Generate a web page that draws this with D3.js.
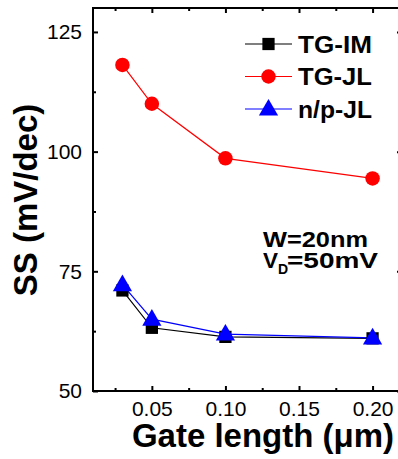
<!DOCTYPE html>
<html><head><meta charset="utf-8">
<script src="https://cdn.jsdelivr.net/npm/d3@7"></script>
<style>body{margin:0;background:#fff;} svg{display:block;}</style>
</head><body>
<svg id="c" width="398" height="459"></svg>
<script>
const gateLength = [0.03, 0.05, 0.10, 0.20];
const tgIM = [71.0, 63.2, 61.3, 61.0];
const tgJL = [118.1, 110.0, 98.6, 94.4];
const npJL = [72.2, 65.0, 61.9, 61.1];
const seriesNames = ["TG-IM", "TG-JL", "n/p-JL"];
const seriesColors = ["#000000", "#ff0000", "#0000ff"];
const xMajorTicks = [0.05, 0.10, 0.15, 0.20];
const xMinorTicks = [0.025, 0.075, 0.125, 0.175];
const yMajorTicks = [50, 75, 100, 125];
const yMinorTicks = [62.5, 87.5, 112.5];

const svg = d3.select("#c");
const L = 93, R = 402, T = 8, B = 391;
const x = d3.scaleLinear().domain([0.01, 0.22]).range([L, R]);
const y = d3.scaleLinear().domain([50, 130]).range([B, T]);
const font = "Arial, 'Liberation Sans', sans-serif";

function axis(gen, tx, ty, ticks, size, labels) {
  const g = svg.append("g").attr("transform", `translate(${tx},${ty})`)
    .call(gen.tickValues(ticks).tickSize(size).tickSizeOuter(0));
  g.select(".domain").remove();
  g.selectAll("line").attr("stroke", "#000").attr("stroke-width", 2);
  if (!labels) g.selectAll("text").remove();
  else g.selectAll("text").attr("font-family", font).attr("font-size", 21).attr("fill", "#000");
  return g;
}
axis(d3.axisBottom(x).tickFormat(d3.format(".2f")).tickPadding(10.5), 0, B, xMajorTicks, -5, true);
axis(d3.axisBottom(x), 0, B, xMinorTicks, -3, false);
axis(d3.axisTop(x), 0, T, xMajorTicks, -5, false);
axis(d3.axisTop(x), 0, T, xMinorTicks, -3, false);
axis(d3.axisLeft(y).tickFormat(d3.format("d")).tickPadding(11), L, 0, yMajorTicks, -5, true);
axis(d3.axisLeft(y), L, 0, yMinorTicks, -3, false);
axis(d3.axisRight(y), R, 0, yMajorTicks, -5, false);
axis(d3.axisRight(y), R, 0, yMinorTicks, -3, false);

svg.append("rect").attr("x", L).attr("y", T).attr("width", R - L).attr("height", B - T)
  .attr("fill", "none").attr("stroke", "#000").attr("stroke-width", 2);

const data = [tgIM, tgJL, npJL];
const line = d3.line().x((d, i) => x(gateLength[i])).y(d => y(d));
const sym = [d3.symbolSquare, d3.symbolCircle, d3.symbolTriangle];
const symSize = [150, 165, 160];
data.forEach((vals, k) => {
  svg.append("path").attr("d", line(vals)).attr("fill", "none")
    .attr("stroke", seriesColors[k]).attr("stroke-width", 1.2);
});
data.forEach((vals, k) => {
  svg.selectAll(null).data(vals).enter().append("path")
    .attr("d", d3.symbol().type(sym[k]).size(symSize[k]))
    .attr("transform", (d, i) => `translate(${x(gateLength[i])},${y(d) + (k === 2 ? 1 : 0)})`)
    .attr("fill", seriesColors[k]);
});

// legend
seriesNames.forEach((name, k) => {
  const yy = 44 + k * 32.5;
  svg.append("line").attr("x1", 245).attr("x2", 292).attr("y1", yy).attr("y2", yy)
    .attr("stroke", seriesColors[k]).attr("stroke-width", 1.2);
  svg.append("path").attr("d", d3.symbol().type(sym[k]).size(symSize[k]))
    .attr("transform", `translate(268.5,${yy + (k === 2 ? 1 : 0)})`).attr("fill", seriesColors[k]);
  svg.append("text").attr("x", 298).attr("y", yy + 8.5).text(name)
    .attr("font-family", font).attr("font-size", 24).attr("font-weight", "bold")
    .attr("textLength", 74).attr("lengthAdjust", "spacingAndGlyphs");
});

// annotations
svg.append("text").attr("x", 263).attr("y", 247).text("W=20nm")
  .attr("font-family", font).attr("font-size", 22).attr("font-weight", "bold")
  .attr("textLength", 105).attr("lengthAdjust", "spacingAndGlyphs");
const t2 = svg.append("text").attr("x", 263).attr("y", 268)
  .attr("font-family", font).attr("font-size", 22).attr("font-weight", "bold");
t2.append("tspan").text("V").attr("textLength", 15).attr("lengthAdjust", "spacingAndGlyphs");
t2.append("tspan").text("D").attr("font-size", 14).attr("dy", 6);
t2.append("tspan").text("=50mV").attr("dy", -6).attr("x", 287)
  .attr("textLength", 91).attr("lengthAdjust", "spacingAndGlyphs");

// axis titles
svg.append("text").attr("x", 263).attr("y", 447).attr("text-anchor", "middle")
  .text("Gate length (μm)").attr("font-family", font).attr("font-size", 33).attr("font-weight", "bold");
svg.append("text").attr("transform", "translate(37,200) rotate(-90)").attr("text-anchor", "middle")
  .text("SS (mV/dec)").attr("font-family", font).attr("font-size", 33).attr("font-weight", "bold");
</script>
</body></html>
